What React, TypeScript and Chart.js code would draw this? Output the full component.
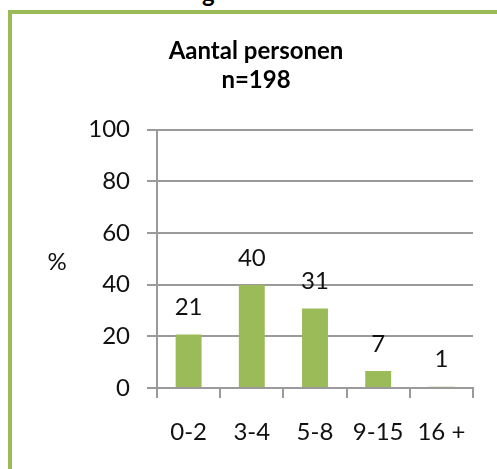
import React, { useEffect, useRef } from "react";
import { Chart, registerables } from "chart.js";

Chart.register(...registerables);

const categories = ["0-2", "3-4", "5-8", "9-15", "16 +"];
const percentages = [20.7, 39.9, 30.8, 6.6, 0.5];
const titleLines = ["Aantal personen", "n=198"];
const yTicks = [0, 20, 40, 60, 80, 100];
const yAxisLabel = "%";

const FONT = "Lato, 'Liberation Sans', sans-serif";
const GREEN = "#9BBB59";
const GRID = "#9a9a9a";
const TEXT = "#111111";

export default function App() {
  const ref = useRef<HTMLCanvasElement | null>(null);

  useEffect(() => {
    document.body.style.margin = "0";
    const canvas = ref.current;
    if (!canvas) return;

    const labelPlugin = {
      id: "valueLabels",
      afterDatasetsDraw(chart: any) {
        const ctx = chart.ctx;
        const meta = chart.getDatasetMeta(0);
        ctx.save();
        ctx.font = `24px ${FONT}`;
        ctx.fillStyle = TEXT;
        ctx.textAlign = "center";
        ctx.textBaseline = "middle";
        meta.data.forEach((bar: any, i: number) => {
          const v = chart.data.datasets[0].data[i] as number;
          ctx.fillText(String(Math.round(v)), bar.x, bar.y - 27);
        });
        // horizontal y axis title
        const area = chart.chartArea;
        ctx.fillText(yAxisLabel, area.left - 100, (area.top + area.bottom) / 2 + 3);
        ctx.restore();
      },
    };

    const chart = new Chart(canvas, {
      type: "bar",
      data: {
        labels: categories,
        datasets: [
          {
            data: percentages,
            backgroundColor: GREEN,
            borderWidth: 0,
            categoryPercentage: 1,
            barPercentage: 0.41,
          },
        ],
      },
      options: {
        animation: false,
        responsive: false,
        devicePixelRatio: 1,
        layout: { padding: { left: 39, right: 24, top: 0, bottom: 21 } },
        plugins: {
          legend: { display: false },
          tooltip: { enabled: false },
          title: {
            display: true,
            text: titleLines,
            color: "#000",
            font: { family: FONT, size: 24, weight: "bold", lineHeight: 1.2 },
            padding: { top: 37, bottom: 35 },
          },
        },
        scales: {
          x: {
            afterFit(scale: any) {
              scale.height = 60;
            },
            grid: {
              display: true,
              drawOnChartArea: false,
              drawTicks: true,
              tickLength: 10,
              offset: true,
              color: GRID,
              lineWidth: 2,
            },
            border: { display: true, color: GRID, width: 2 },
            ticks: {
              color: TEXT,
              font: { family: FONT, size: 24 },
              padding: 20,
              maxRotation: 0,
            },
          },
          y: {
            min: 0,
            max: 100,
            afterFit(scale: any) {
              scale.width = 118;
            },
            afterBuildTicks(scale: any) {
              scale.ticks = yTicks.map((v) => ({ value: v }));
            },
            grid: {
              color: GRID,
              lineWidth: 2,
              drawTicks: true,
              tickLength: 10,
            },
            border: { display: true, color: GRID, width: 2 },
            ticks: {
              color: TEXT,
              font: { family: FONT, size: 24 },
              padding: 17,
            },
          },
        },
      },
      plugins: [labelPlugin],
    });

    return () => chart.destroy();
  }, []);

  return (
    <div
      style={{
        position: "relative",
        width: 497,
        height: 469,
        overflow: "hidden",
        background: "#fff",
      }}
    >
      <div
        style={{
          position: "absolute",
          left: 8,
          top: 10,
          width: 700,
          height: 700,
          border: `4px solid ${GREEN}`,
          boxSizing: "border-box",
        }}
      />
      <div
        style={{
          position: "absolute",
          left: 202,
          top: -19,
          fontFamily: FONT,
          fontWeight: "bold",
          fontSize: 24,
          lineHeight: "24px",
          color: "#000",
        }}
      >
        g
      </div>
      <canvas
        ref={ref}
        width={497}
        height={469}
        style={{ position: "absolute", left: 0, top: 0, width: 497, height: 469 }}
      />
    </div>
  );
}
